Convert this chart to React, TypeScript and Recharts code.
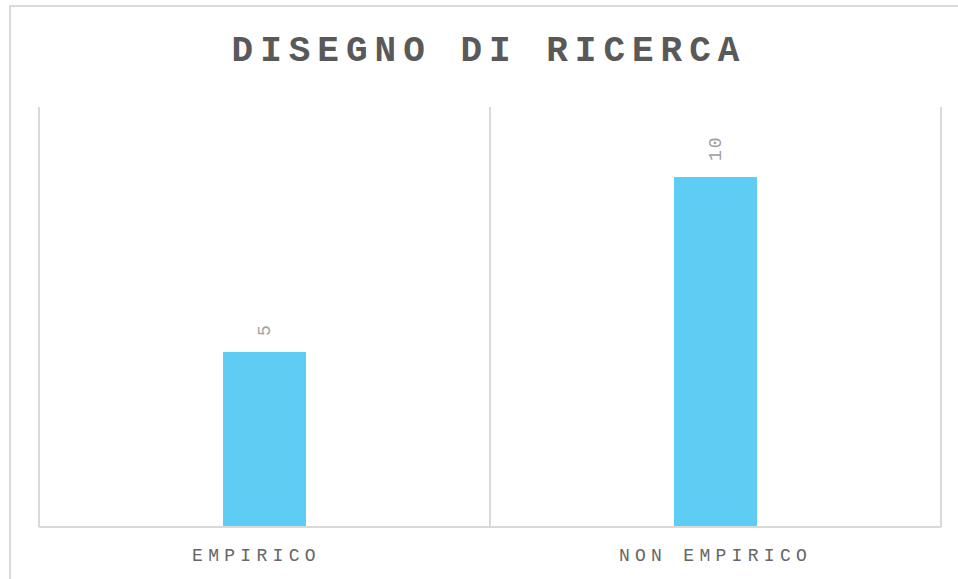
import React from "react";
import { BarChart, Bar, XAxis, YAxis, CartesianGrid, LabelList } from "recharts";

const categories = ["EMPIRICO ", "NON EMPIRICO"];
const values = [5, 10];
const title = "DISEGNO DI RICERCA";

const data = categories.map((c, i) => ({ name: c, value: values[i] }));

const FONT = "'Liberation Mono', 'Courier New', monospace";

const RotLabel = (props: any) => {
  const { x, y, width, value } = props;
  const cx = x + width / 2;
  const cy = y - 16;
  return (
    <text
      x={cx}
      y={cy}
      transform={`rotate(-90, ${cx}, ${cy})`}
      textAnchor="start"
      dominantBaseline="central"
      fill="#a0a0a0"
      fontFamily={FONT}
      fontSize={18}
      letterSpacing={2}
    >
      {value}
    </text>
  );
};

const Tick = (props: any) => {
  const { x, y, payload } = props;
  return (
    <text
      x={x}
      y={y + 26}
      textAnchor="middle"
      fill="#666666"
      fontFamily={FONT}
      fontSize={18}
      letterSpacing={5.3}
      style={{ whiteSpace: "pre" }}
    >
      {payload.value}
    </text>
  );
};

export default function App() {
  return (
    <div style={{ position: "fixed", left: 0, top: 0, width: 958, height: 579, overflow: "hidden", background: "#fff" }}>
      <div style={{ position: "absolute", left: 0, top: 0 }}>
        <BarChart
          width={958}
          height={579}
          data={data}
          margin={{ top: 107, right: 17, left: 39, bottom: 0 }}
          barCategoryGap="40.8%"
        >
          <CartesianGrid
            horizontal={false}
            stroke="#d9d9d9"
            strokeWidth={2}
            verticalCoordinatesGenerator={({ offset }: any) => [
              offset.left,
              offset.left + offset.width / 2,
              offset.left + offset.width,
            ]}
          />
          <YAxis hide domain={[0, 12]} />
          <XAxis
            dataKey="name"
            height={52}
            axisLine={{ stroke: "#d9d9d9", strokeWidth: 2 }}
            tickLine={false}
            tick={<Tick />}
            interval={0}
          />
          <Bar dataKey="value" fill="#5ecdf4" isAnimationActive={false}>
            <LabelList dataKey="value" content={<RotLabel />} />
          </Bar>
        </BarChart>
      </div>
      <div
        style={{
          position: "absolute",
          left: 0,
          top: 32,
          width: 978,
          textAlign: "center",
          fontFamily: FONT,
          fontWeight: "bold",
          fontSize: 36,
          letterSpacing: 7,
          color: "#595959",
          lineHeight: "40px",
        }}
      >
        {title}
      </div>
      <div
        style={{
          position: "absolute",
          left: 9,
          top: 5,
          width: 970,
          height: 590,
          borderLeft: "2px solid #d9d9d9",
          borderTop: "2px solid #d9d9d9",
          boxSizing: "border-box",
          pointerEvents: "none",
        }}
      />
    </div>
  );
}
